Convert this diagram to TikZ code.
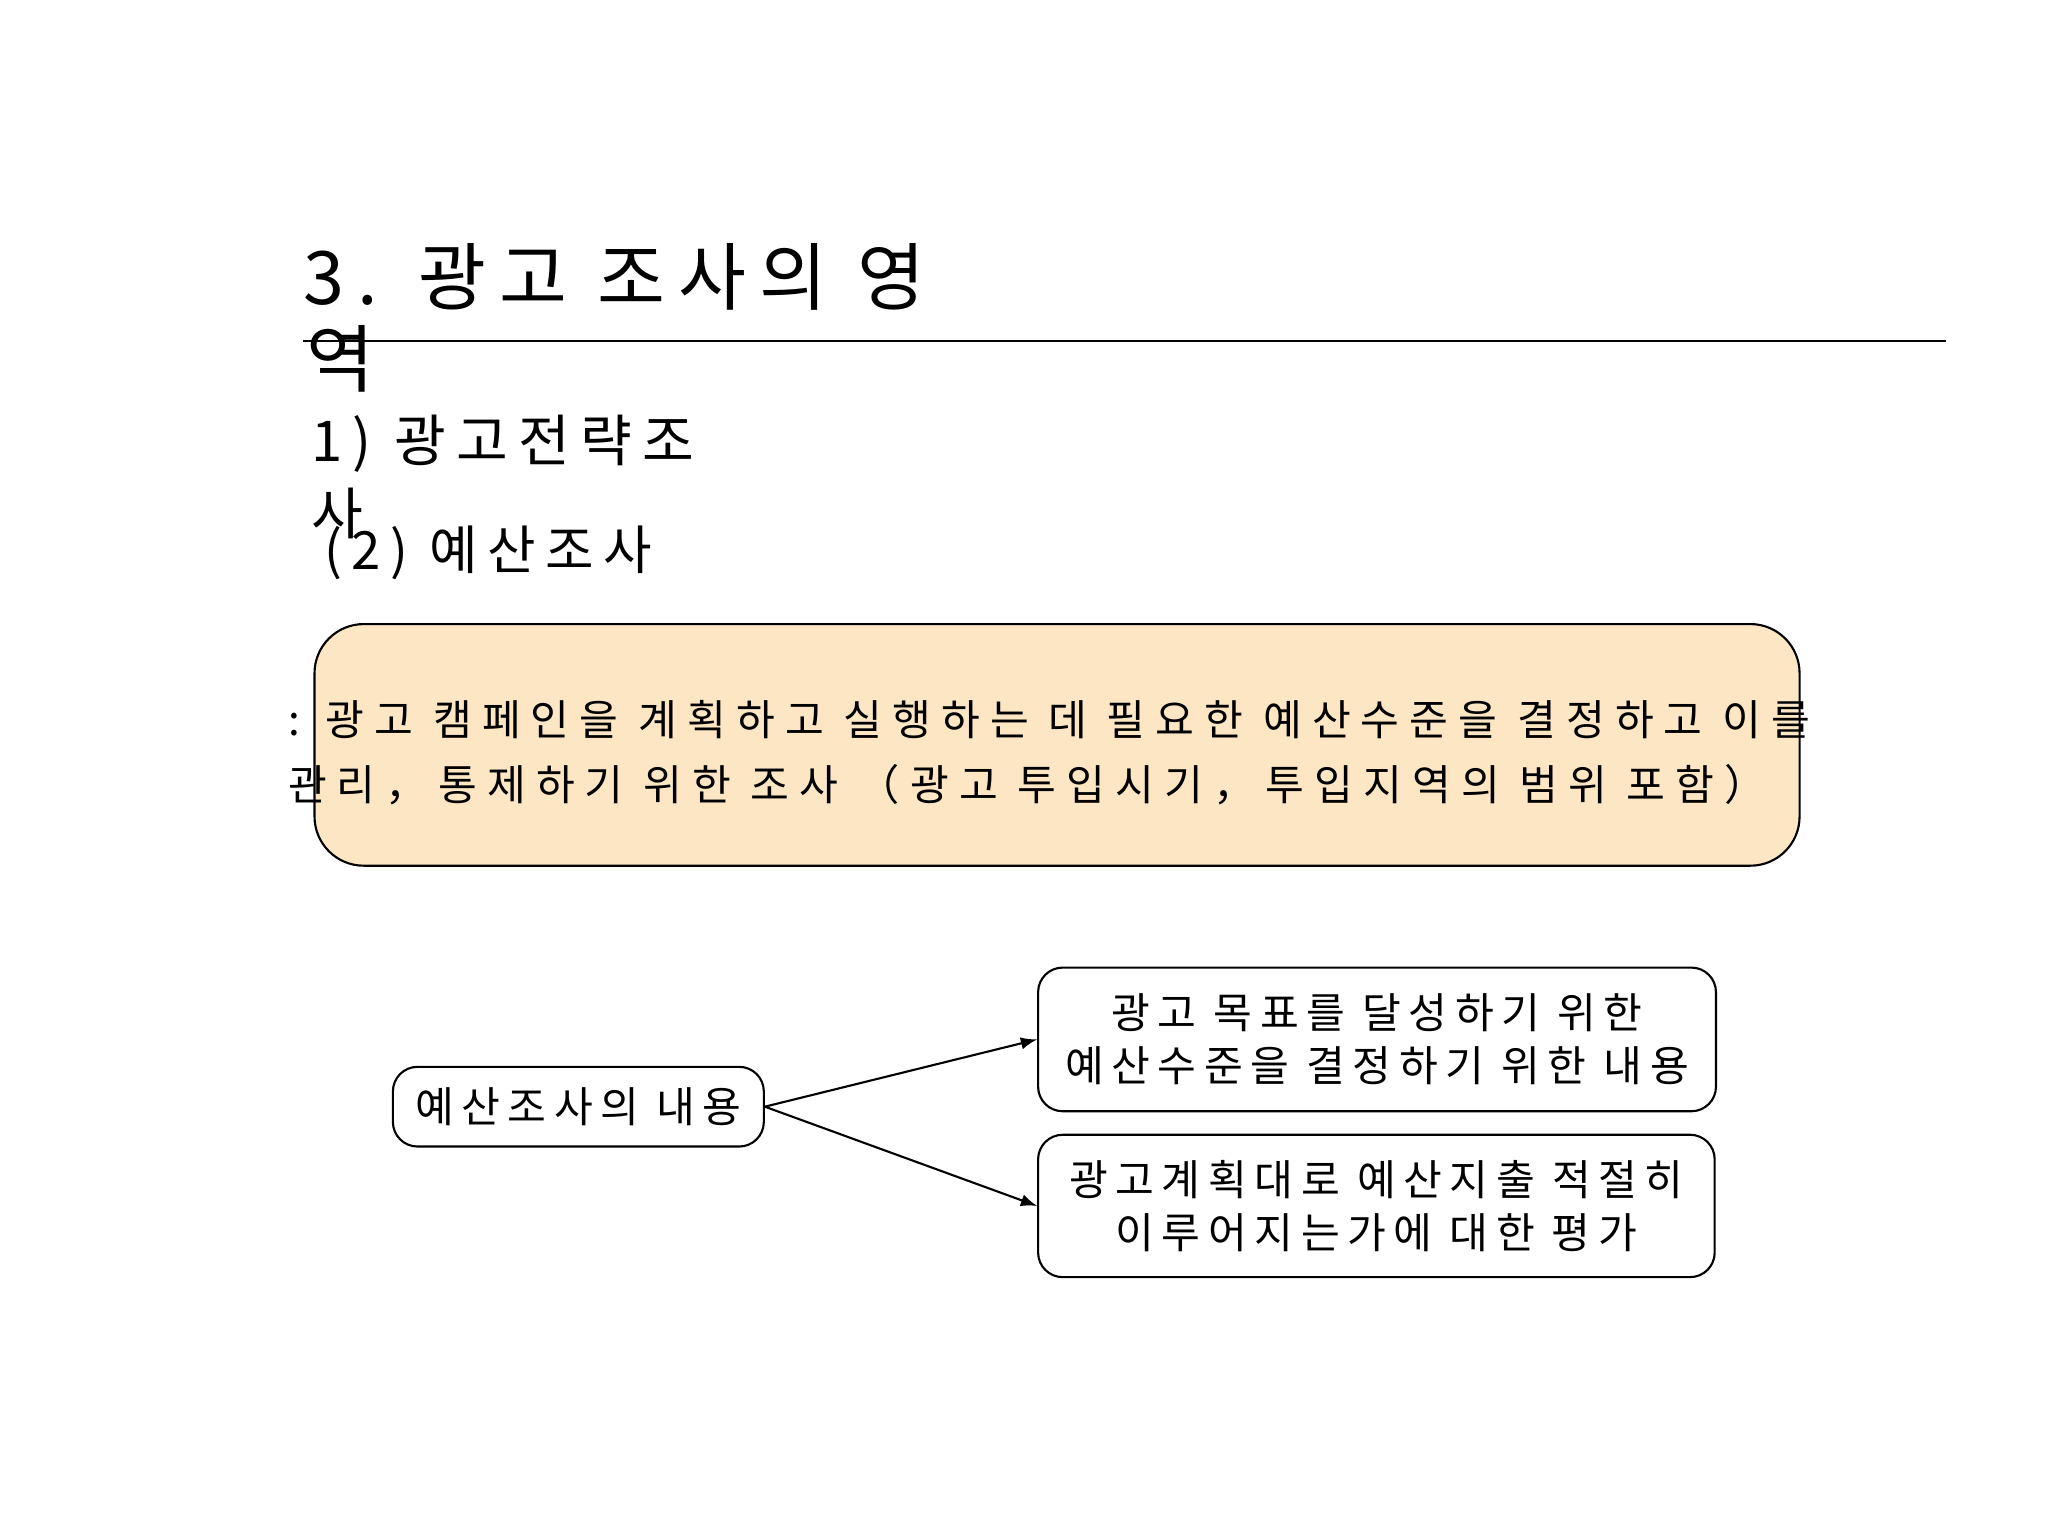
\documentclass[tikz,border=0pt]{standalone}
\usepackage{fontspec}
\setmainfont{Noto Sans CJK KR}
\newfontfamily\kr[LetterSpace=18]{Noto Sans CJK KR}
\newfontfamily\krb[LetterSpace=24]{Noto Sans CJK KR}
\definecolor{peach}{HTML}{FDE6C4}
\begin{document}
\begin{tikzpicture}[x=0.01306cm,y=-0.01306cm,
  box/.style={draw,rounded corners=7pt,line width=0.6pt},
  txt/.style={anchor=west,inner sep=0pt,font=\kr},
  arr/.style={-latex,line width=0.6pt}]
\useasboundingbox (0,0) rectangle (1568,1176);
\node[txt,font=\kr\fontsize{21}{24}\selectfont] (t1) at (232,212) {3. 광고 조사의 영};
\node[txt,font=\kr\fontsize{21}{24}\selectfont] (t2) at (234,275) {역};
\coordinate (la) at (232,261); \coordinate (lb) at (1490,261);
\draw[line width=0.7pt] (la) -- (lb);
\node[txt,font=\kr\fontsize{16}{19}\selectfont] (s1) at (238,340) {1) 광고전략조};
\node[txt,font=\kr\fontsize{16}{19}\selectfont] (s2) at (238,393) {사};
\node[txt,font=\kr\fontsize{15}{18}\selectfont] (s3) at (248,423) {(2) 예산조사};
\node[box,fill=peach,rounded corners=14pt,minimum width=1137*0.01306cm,minimum height=185*0.01306cm,anchor=north west] (big) at (240,477) {};
\node[txt,font=\krb\fontsize{12}{14}\selectfont] (b1) at (220,551) {: 광고 캠페인을 계획하고 실행하는 데 필요한 예산수준을 결정하고 이를};
\node[txt,font=\krb\fontsize{12}{14}\selectfont] (b2) at (220,601) {관리，통제하기 위한 조사 （광고 투입시기，투입지역의 범위 포함）};
\node[box,minimum width=284*0.01306cm,minimum height=61*0.01306cm,font=\kr\fontsize{12}{14}\selectfont,anchor=north west,inner sep=0pt] (a) at (300,816) {예산조사의 내용};
\node[box,minimum width=519*0.01306cm,minimum height=110*0.01306cm,font=\kr\fontsize{12}{14}\selectfont,anchor=north west,align=center,inner sep=0pt] (c1) at (794,740) {광고 목표를 달성하기 위한\\[1pt]예산수준을 결정하기 위한 내용};
\node[box,minimum width=518*0.01306cm,minimum height=109*0.01306cm,font=\kr\fontsize{12}{14}\selectfont,anchor=north west,align=center,inner sep=0pt] (c2) at (794,868) {광고계획대로 예산지출 적절히\\[1pt]이루어지는가에 대한 평가};
\draw[arr] (a.east) -- (c1.west);
\draw[arr] (a.east) -- (c2.west);
\end{tikzpicture}
\end{document}
